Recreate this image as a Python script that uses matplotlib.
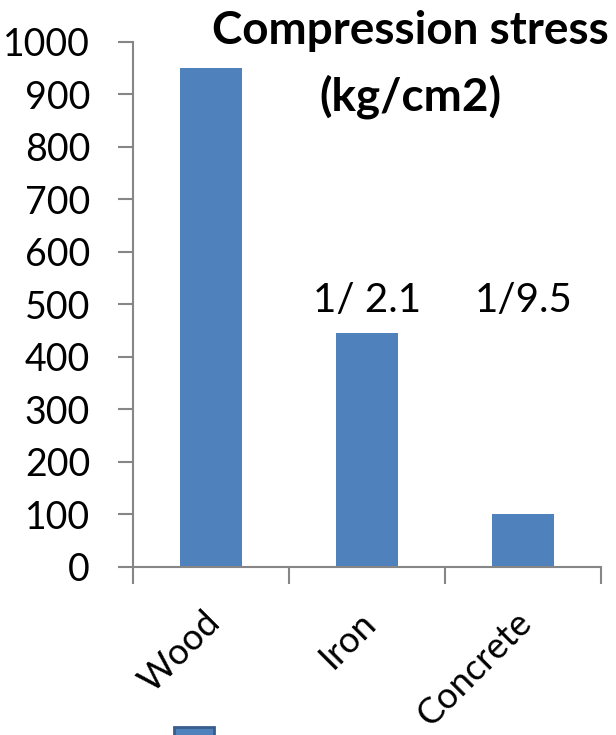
import matplotlib.pyplot as plt
from matplotlib.patches import Rectangle

materials = ["Wood", "Iron", "Concrete"]
stress = [950, 445, 100]
ratio_labels = ["", "1/ 2.1", "1/9.5"]
yticks = list(range(0, 1001, 100))

bar_color = "#4F81BD"
axis_color = "#868686"

plt.rcParams["font.family"] = ["Lato", "DejaVu Sans"]

fig = plt.figure(figsize=(6.16, 7.35), dpi=100)
ax = fig.add_axes([0.216, 0.2286, 0.76, 0.7143])

xs = range(len(materials))
ax.bar(xs, stress, width=0.4, color=bar_color, zorder=2)

ax.set_xlim(-0.5, len(materials) - 0.5)
ax.set_ylim(0, 1000)
ax.set_yticks(yticks)
ax.tick_params(axis="y", labelsize=27, length=11, width=1.5, color=axis_color, pad=20)

# category ticks sit on the boundaries between bars
ax.set_xticks([i - 0.5 for i in range(len(materials) + 1)])
ax.set_xticklabels([])
ax.tick_params(axis="x", length=12, width=1.5, color=axis_color)
for i, name in enumerate(materials):
    ax.text(i + 0.02, -96, name, rotation=45, ha="right", va="center",
            fontsize=26, rotation_mode="anchor")

for s in ["top", "right"]:
    ax.spines[s].set_visible(False)
for s in ["left", "bottom"]:
    ax.spines[s].set_color(axis_color)
    ax.spines[s].set_linewidth(1.5)

# ratio of each material's strength to wood, written above the bars
for i, lab in enumerate(ratio_labels):
    if lab:
        ax.text(i, 508, lab, ha="center", va="center", fontsize=29)

fig.text(0.667, 0.958, "Compression stress", ha="center", va="center",
         fontsize=33, fontweight="bold")
fig.text(0.667, 0.868, "(kg/cm2)", ha="center", va="center",
         fontsize=33, fontweight="bold")

# legend swatch at the bottom edge
fig.patches.append(Rectangle((174 / 616, -0.02), 40 / 616, 0.031,
                             transform=fig.transFigure, facecolor=bar_color,
                             edgecolor="#385D8A", linewidth=2))

fig.savefig("out.png", dpi=100)
